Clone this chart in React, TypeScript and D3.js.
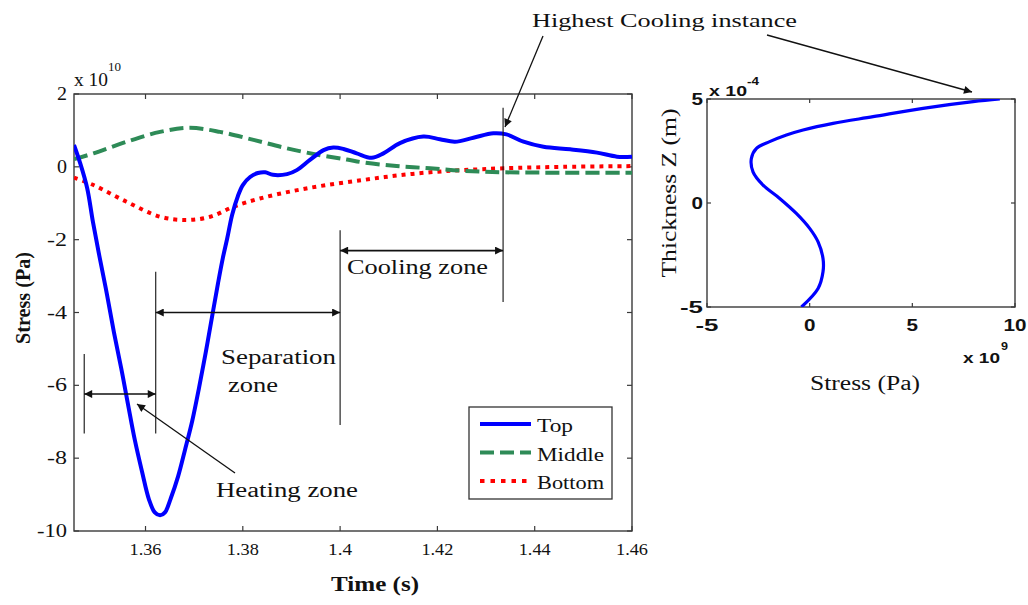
import React from "react";
import * as d3 from "d3";

// ---------- DATA ----------
const xTicks = [1.36, 1.38, 1.4, 1.42, 1.44, 1.46];
const xTickLabels = ["1.36", "1.38", "1.4", "1.42", "1.44", "1.46"];
const yTicks = [2, 0, -2, -4, -6, -8, -10];
const yTickLabels = ["2", "0", "-2", "-4", "-6", "-8", "-10"];

// Stress (x1e10 Pa) vs time (s)
const topSeries: [number, number][] = [
  [1.3453, 0.6], [1.3465, 0.13], [1.348, -0.58], [1.3492, -1.52], [1.3506, -2.51],
  [1.3521, -3.52], [1.3535, -4.54], [1.355, -5.53], [1.3564, -6.52], [1.3578, -7.5],
  [1.3593, -8.38], [1.3607, -9.13], [1.3619, -9.49], [1.363, -9.57], [1.364, -9.49],
  [1.3652, -9.1], [1.3667, -8.5], [1.3681, -7.78], [1.3696, -6.98], [1.371, -6.07],
  [1.3724, -5.08], [1.3737, -4.1], [1.3749, -3.2], [1.3759, -2.5], [1.3768, -1.96],
  [1.3778, -1.32], [1.379, -0.8], [1.38, -0.5], [1.3815, -0.28], [1.3831, -0.17],
  [1.3846, -0.15], [1.3862, -0.22], [1.3891, -0.2], [1.3911, -0.09], [1.3938, 0.19],
  [1.3966, 0.46], [1.3986, 0.53], [1.4007, 0.49], [1.4034, 0.37], [1.4065, 0.25],
  [1.4089, 0.37], [1.4123, 0.65], [1.4171, 0.83], [1.4205, 0.76], [1.4236, 0.69],
  [1.4274, 0.8], [1.4315, 0.92], [1.4342, 0.89], [1.4377, 0.69], [1.4418, 0.55],
  [1.4473, 0.48], [1.4528, 0.39], [1.4569, 0.28], [1.46, 0.28],
];
const middleSeries: [number, number][] = [
  [1.3453, 0.21], [1.3493, 0.37], [1.3561, 0.69], [1.363, 0.96], [1.3691, 1.07],
  [1.3753, 0.96], [1.3822, 0.74], [1.389, 0.51], [1.3959, 0.32], [1.4014, 0.2],
  [1.4048, 0.12], [1.4116, 0.02], [1.4185, -0.04], [1.4253, -0.11], [1.4336, -0.15],
  [1.4459, -0.16], [1.46, -0.16],
];
const bottomSeries: [number, number][] = [
  [1.3453, -0.3], [1.3493, -0.5], [1.3561, -0.96], [1.363, -1.37], [1.3685, -1.46],
  [1.3733, -1.37], [1.378, -1.1], [1.3835, -0.87], [1.3904, -0.66], [1.3972, -0.5],
  [1.4048, -0.36], [1.4116, -0.24], [1.4185, -0.15], [1.4253, -0.09], [1.4336, -0.04],
  [1.4459, 0.0], [1.46, 0.02],
];

// Right panel: stress (x1e9 Pa) vs thickness Z (x1e-4 m)
const profileSeries: [number, number][] = [
  [-0.4, -5], [0.41, -4.11], [0.65, -3.31], [0.65, -2.67], [0.41, -1.87],
  [0.0, -1.22], [-0.65, -0.5], [-1.46, 0.22], [-2.27, 0.86], [-2.76, 1.5],
  [-2.84, 2.14], [-2.59, 2.63], [-1.95, 2.95], [-1.13, 3.27], [-0.32, 3.51],
  [1.14, 3.83], [3.09, 4.15], [5.52, 4.55], [7.96, 4.87], [9.26, 5],
];
const rxTicks = [-5, 0, 5, 10];
const ryTicks = [5, 0, -5];

const legendItems = ["Top", "Middle", "Bottom"];

// zone boundaries (time, s)
const zoneBounds = [1.3474, 1.3621, 1.4, 1.4335];

// ---------- LAYOUT ----------
const W = 1028, H = 605;
const x = d3.scaleLinear().domain([1.3453, 1.46]).range([74, 632]);
const y = d3.scaleLinear().domain([-10, 2]).range([531, 94]);
const rx = d3.scaleLinear().domain([-5, 10]).range([707, 1015]);
const ry = d3.scaleLinear().domain([-5, 5]).range([307, 99]);

const SERIF = "'Liberation Serif', 'Times New Roman', serif";
const SANS = "'Liberation Sans', Arial, sans-serif";

const line = d3.line<[number, number]>().x(d => x(d[0])).y(d => y(d[1])).curve(d3.curveCatmullRom.alpha(0.5));
const rline = d3.line<[number, number]>().x(d => rx(d[0])).y(d => ry(d[1])).curve(d3.curveCatmullRom.alpha(0.5));

const BLUE = "#0000ff", GREEN = "#2e8b57", RED = "#ff0000";
const AX = "#3a3a3a";

function T(props: any) {
  const { x: tx, y: ty, w, size = 20, anchor = "start", weight = "normal", family = SERIF, rot = 0, children, fill = "#111" } = props;
  return (
    <text
      transform={`translate(${tx},${ty}) rotate(${rot})`}
      fontFamily={family}
      fontSize={size}
      fontWeight={weight}
      textAnchor={anchor}
      fill={fill}
      {...(w ? { textLength: w, lengthAdjust: "spacingAndGlyphs" } : {})}
    >
      {children}
    </text>
  );
}

export default function App() {
  const [x0, x1] = x.range();
  const [yb, yt] = y.range();
  const [rx0, rx1] = rx.range();
  const [ryb, ryt] = ry.range();
  return (
    <svg width={W} height={H} style={{ position: "absolute", left: 0, top: 0, background: "#fff" }}>
      <defs>
        <marker id="ah" viewBox="0 0 10 10" refX="10" refY="5" markerWidth="10" markerHeight="8"
          markerUnits="userSpaceOnUse" orient="auto-start-reverse">
          <path d="M0,0 L10,5 L0,10 z" fill="#111" />
        </marker>
        <clipPath id="clipL"><rect x={x0} y={yt} width={x1 - x0} height={yb - yt} /></clipPath>
        <clipPath id="clipR"><rect x={rx0} y={ryt} width={rx1 - rx0} height={ryb - ryt} /></clipPath>
      </defs>
      <rect width={W} height={H} fill="#fff" />

      {/* ---------- LEFT PANEL ---------- */}
      <rect x={x0} y={yt} width={x1 - x0} height={yb - yt} fill="#fff" stroke={AX} strokeWidth={1.4} />
      {xTicks.map((t, i) => (
        <g key={"xt" + i}>
          <line x1={x(t)} x2={x(t)} y1={yb} y2={yb - 5} stroke={AX} strokeWidth={1.2} />
          <line x1={x(t)} x2={x(t)} y1={yt} y2={yt + 5} stroke={AX} strokeWidth={1.2} />
          <T x={x(t)} y={555} size={17} anchor="middle" w={xTickLabels[i].length > 3 ? 32 : 24}>{xTickLabels[i]}</T>
        </g>
      ))}
      {yTicks.map((t, i) => (
        <g key={"yt" + i}>
          <line x1={x0} x2={x0 + 5} y1={y(t)} y2={y(t)} stroke={AX} strokeWidth={1.2} />
          <line x1={x1} x2={x1 - 5} y1={y(t)} y2={y(t)} stroke={AX} strokeWidth={1.2} />
          <T x={67} y={y(t) + 6} size={18} anchor="end" w={yTickLabels[i].length * 10}>{yTickLabels[i]}</T>
        </g>
      ))}
      <T x={74} y={86} size={18} w={34}>x 10</T>
      <T x={108} y={71} size={12} w={13}>10</T>
      <T x={30} y={298} size={20} weight="bold" anchor="middle" rot={-90} w={92}>Stress (Pa)</T>
      <T x={331} y={591} size={21} weight="bold" w={88}>Time (s)</T>

      <g clipPath="url(#clipL)" fill="none">
        <path d={line(bottomSeries)!} stroke={RED} strokeWidth={4} strokeDasharray="4 5" />
        <path d={line(middleSeries)!} stroke={GREEN} strokeWidth={4} strokeDasharray="14 6" />
        <path d={line(topSeries)!} stroke={BLUE} strokeWidth={4} strokeLinejoin="round" />
      </g>

      {/* zone annotations */}
      <g stroke="#111" strokeWidth={1.1} fill="none">
        <line x1={x(zoneBounds[0])} x2={x(zoneBounds[0])} y1={y(-5.14)} y2={y(-7.32)} />
        <line x1={x(zoneBounds[1])} x2={x(zoneBounds[1])} y1={y(-2.88)} y2={y(-7.32)} />
        <line x1={x(zoneBounds[2])} x2={x(zoneBounds[2])} y1={y(-1.74)} y2={y(-7.09)} />
        <line x1={x(zoneBounds[3])} x2={x(zoneBounds[3])} y1={y(1.62)} y2={y(-3.71)} />
        <line x1={x(zoneBounds[0])} x2={x(zoneBounds[1])} y1={y(-6.24)} y2={y(-6.24)} strokeWidth={1.6} markerStart="url(#ah)" markerEnd="url(#ah)" />
        <line x1={x(zoneBounds[1])} x2={x(zoneBounds[2])} y1={y(-4.0)} y2={y(-4.0)} strokeWidth={1.6} markerStart="url(#ah)" markerEnd="url(#ah)" />
        <line x1={x(zoneBounds[2])} x2={x(zoneBounds[3])} y1={y(-2.3)} y2={y(-2.3)} strokeWidth={1.6} markerStart="url(#ah)" markerEnd="url(#ah)" />
        <line x1={235} y1={473} x2={137} y2={404} strokeWidth={1.3} markerEnd="url(#ah)" />
        <line x1={543} y1={36} x2={505} y2={127} strokeWidth={1.3} markerEnd="url(#ah)" />
        <line x1={767} y1={35} x2={972} y2={92} strokeWidth={1.3} markerEnd="url(#ah)" />
      </g>
      <T x={347} y={274} size={20} w={141}>Cooling zone</T>
      <T x={221} y={364} size={20} w={115}>Separation</T>
      <T x={228} y={392} size={20} w={50}>zone</T>
      <T x={216} y={497} size={20} w={142}>Heating zone</T>
      <T x={532} y={27} size={19} w={265}>Highest Cooling instance</T>

      {/* legend */}
      <rect x={469} y={407} width={143} height={92} fill="#fff" stroke="#333" strokeWidth={1.3} />
      {legendItems.map((name, i) => {
        const ly = 424 + i * 28.5;
        const st = [BLUE, GREEN, RED][i];
        const da = ["none", "14 6", "4.5 6"][i];
        return (
          <g key={name}>
            <line x1={480} x2={531} y1={ly} y2={ly} stroke={st} strokeWidth={4} strokeDasharray={da} />
            <T x={537} y={ly + 8} size={19} w={[36, 67, 67][i]}>{name}</T>
          </g>
        );
      })}

      {/* ---------- RIGHT PANEL ---------- */}
      <rect x={rx0} y={ryt} width={rx1 - rx0} height={ryb - ryt} fill="#fff" stroke={AX} strokeWidth={1.4} />
      {rxTicks.map(t => (
        <g key={"rxt" + t}>
          <line x1={rx(t)} x2={rx(t)} y1={ryb} y2={ryb - 4} stroke={AX} strokeWidth={1.2} />
          <line x1={rx(t)} x2={rx(t)} y1={ryt} y2={ryt + 4} stroke={AX} strokeWidth={1.2} />
          <T x={rx(t)} y={331} size={17} weight="bold" family={SANS} anchor="middle" w={String(t).length * 11.5}>{String(t)}</T>
        </g>
      ))}
      {ryTicks.map(t => (
        <g key={"ryt" + t}>
          <line x1={rx0} x2={rx0 + 4} y1={ry(t)} y2={ry(t)} stroke={AX} strokeWidth={1.2} />
          <line x1={rx1} x2={rx1 - 4} y1={ry(t)} y2={ry(t)} stroke={AX} strokeWidth={1.2} />
          <T x={703} y={ry(t) + 6} size={17} weight="bold" family={SANS} anchor="end" w={String(t).length * 11.5}>{String(t)}</T>
        </g>
      ))}
      <T x={709} y={96} size={15} weight="bold" family={SANS} w={38}>x 10</T>
      <T x={747} y={85} size={11} weight="bold" family={SANS} w={12}>-4</T>
      <T x={963} y={363} size={15} weight="bold" family={SANS} w={37}>x 10</T>
      <T x={1001} y={350} size={11} weight="bold" family={SANS} w={7}>9</T>
      <T x={810} y={390} size={20} w={110}>Stress (Pa)</T>
      <T x={676} y={193} size={20} anchor="middle" rot={-90} w={169}>Thickness Z (m)</T>

      <g clipPath="url(#clipR)">
        <path d={rline(profileSeries)!} fill="none" stroke={BLUE} strokeWidth={3.2} strokeLinejoin="round" />
      </g>
    </svg>
  );
}
